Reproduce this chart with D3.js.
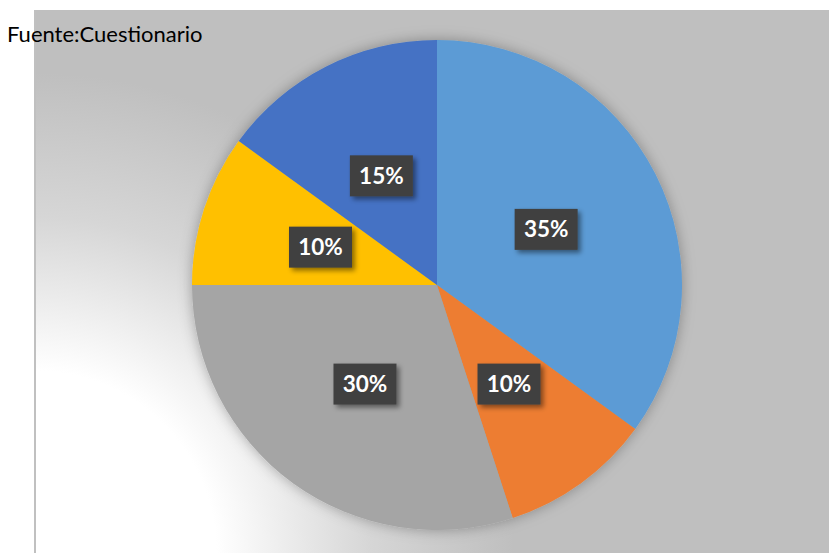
<!DOCTYPE html>
<html>
<head>
<meta charset="utf-8">
<script src="https://cdn.jsdelivr.net/npm/d3@7"></script>
<style>
  body { margin: 0; background: #fff; }
  svg { display: block; }
</style>
</head>
<body>
<svg id="chart" width="829" height="553"></svg>
<script>
// datos de la gráfica
const categories = ["A", "B", "C", "D", "E"];
const values = [35, 10, 30, 10, 15];
const labels = ["35%", "10%", "30%", "10%", "15%"];
const colors = ["#5B9BD5", "#ED7D31", "#A5A5A5", "#FFC000", "#4472C4"];

const svg = d3.select("#chart");
const width = +svg.attr("width");
const height = +svg.attr("height");

const defs = svg.append("defs");

// degradado radial del área de gráfico (blanco en la esquina inferior izquierda)
const grad = defs.append("radialGradient")
    .attr("id", "bgGrad")
    .attr("gradientUnits", "userSpaceOnUse")
    .attr("cx", 34).attr("cy", height)
    .attr("r", 480);
grad.append("stop").attr("offset", "0%").attr("stop-color", "#ffffff");
grad.append("stop").attr("offset", "38%").attr("stop-color", "#ffffff");
grad.append("stop").attr("offset", "70%").attr("stop-color", "#d6d6d6");
grad.append("stop").attr("offset", "100%").attr("stop-color", "#bfbfbf");

// sombra de las etiquetas
const sh = defs.append("filter").attr("id", "lblShadow")
    .attr("x", "-30%").attr("y", "-30%").attr("width", "170%").attr("height", "170%");
sh.append("feDropShadow")
    .attr("dx", 3).attr("dy", 3).attr("stdDeviation", 2.5)
    .attr("flood-color", "#000").attr("flood-opacity", 0.45);

// sombra suave alrededor del pastel
const pieShadow = defs.append("filter").attr("id", "pieShadow")
    .attr("x", "-15%").attr("y", "-15%").attr("width", "130%").attr("height", "130%");
pieShadow.append("feDropShadow")
    .attr("dx", 0).attr("dy", 0).attr("stdDeviation", 7)
    .attr("flood-color", "#000").attr("flood-opacity", 0.3);

// área de gráfico
svg.append("rect")
    .attr("x", 34).attr("y", 10)
    .attr("width", width - 34).attr("height", height - 10)
    .attr("fill", "url(#bgGrad)");
svg.append("line")
    .attr("x1", 35).attr("y1", 10).attr("x2", 35).attr("y2", height)
    .attr("stroke", "#c0c0c0").attr("stroke-width", 2);

// pastel
const cx = 437, cy = 285, radius = 245;
const pie = d3.pie().sort(null).value(d => d.value);
const arcs = pie(categories.map((c, i) => ({ cat: c, value: values[i], label: labels[i], color: colors[i] })));
const arc = d3.arc().innerRadius(0).outerRadius(radius);
const labelArc = d3.arc().innerRadius(radius * 0.5).outerRadius(radius * 0.5);

const g = svg.append("g").attr("transform", `translate(${cx},${cy})`);
g.append("g").attr("filter", "url(#pieShadow)")
    .selectAll("path")
    .data(arcs)
    .enter()
    .append("path")
    .attr("d", arc)
    .attr("fill", d => d.data.color);

// etiquetas de datos
const boxW = 63, boxH = 41;
const lbl = g.selectAll(".lbl")
    .data(arcs)
    .enter()
    .append("g")
    .attr("class", "lbl")
    .attr("transform", d => `translate(${labelArc.centroid(d)})`);
lbl.append("rect")
    .attr("x", -boxW / 2).attr("y", -boxH / 2)
    .attr("width", boxW).attr("height", boxH)
    .attr("fill", "#404040")
    .attr("filter", "url(#lblShadow)");
lbl.append("text")
    .attr("text-anchor", "middle")
    .attr("dy", "0.36em")
    .attr("fill", "#fff")
    .style("font-family", "Lato, 'Open Sans', sans-serif")
    .style("font-weight", "bold")
    .style("font-size", "22.5px")
    .text(d => d.data.label);

// fuente
svg.append("text")
    .attr("x", 7).attr("y", 42)
    .attr("fill", "#000")
    .style("font-family", "Lato, 'Open Sans', sans-serif")
    .style("font-size", "22px")
    .text("Fuente:Cuestionario");
</script>
</body>
</html>
